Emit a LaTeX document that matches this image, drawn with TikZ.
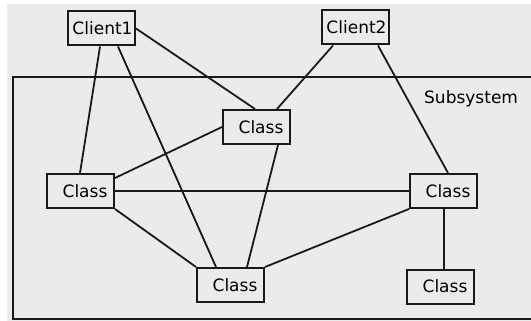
\documentclass[tikz,border=0pt]{standalone}
\usepackage{fontspec}
\setmainfont{DejaVu Sans}
\definecolor{bggray}{RGB}{235,235,235}
\definecolor{ink}{RGB}{25,25,25}
\begin{document}
\begin{tikzpicture}[x=1pt,y=-1pt,
  box/.style={draw=ink, fill=bggray, line width=2pt, rectangle,
    minimum width=67pt, minimum height=34pt, inner sep=0pt,
    text height=12.5pt, text depth=0pt,
    font=\fontsize{17}{20}\selectfont},
  clientbox/.style={box, execute at begin node={\hspace*{2pt}}},
  classbox/.style={box, execute at begin node={\hspace*{9pt}}},
  edge/.style={draw=ink, line width=1.8pt}]
\useasboundingbox (0,0) rectangle (531,321);
\fill[white] (0,0) rectangle (531,321);
\fill[bggray] (7,4) rectangle (531,321);
\draw[ink, line width=2pt] (13,77) rectangle (545,319);
\node[anchor=base west, inner sep=0pt, font=\fontsize{17}{20}\selectfont] (sub) at (424,103) {Subsystem};

\node[clientbox] (c1) at (101.5,28.5) {Client1};
\node[clientbox] (c2) at (355.5,27.5) {Client2};
\node[classbox] (ct) at (256.5,127) {Class};
\node[classbox] (cl) at (80.5,191) {Class};
\node[classbox] (cb) at (230.5,285) {Class};
\node[classbox] (cr) at (443.5,191) {Class};
\node[classbox] (cbr) at (440.5,286.5) {Class};

\path[edge] ([xshift=-1.5pt]c1.south) -- ([xshift=-0.5pt]cl.north);
\path[edge] ([xshift=16.5pt]c1.south) -- ([xshift=-14.5pt]cb.north);
\path[edge] (c1.east) -- ([xshift=-1.5pt]ct.north);
\path[edge] ([xshift=-22.5pt]c2.south) -- ([xshift=20.5pt]ct.north);
\path[edge] ([xshift=22.5pt]c2.south) -- ([xshift=4.5pt]cr.north);
\path[edge] (ct.west) -- ([yshift=13pt]cl.east);
\path[edge] ([xshift=21.5pt]ct.south) -- ([xshift=16.5pt]cb.north);
\path[edge] (cl.east) -- (cr.west);
\path[edge] (cl.south east) -- (cb.north west);
\path[edge] (cr.south west) -- (cb.north east);
\path[edge] ([xshift=0.5pt]cr.south) -- ([xshift=0.5pt]cr.south |- cbr.north);
\end{tikzpicture}
\end{document}
